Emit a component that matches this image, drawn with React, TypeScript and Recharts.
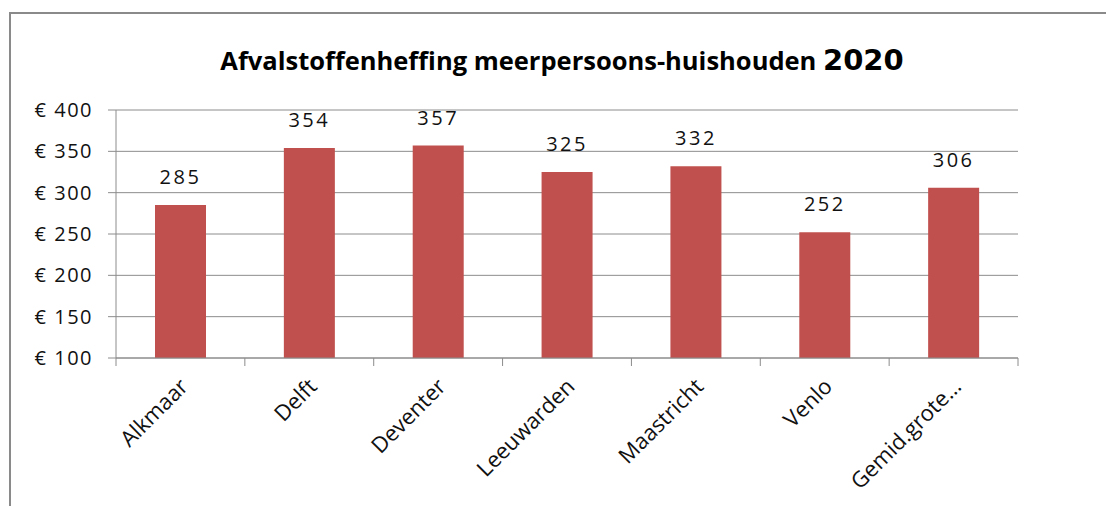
import React from "react";
import { BarChart, Bar, XAxis, YAxis, CartesianGrid, LabelList } from "recharts";

const categories = ["Alkmaar", "Delft", "Deventer", "Leeuwarden", "Maastricht", "Venlo", "Gemid.grote…"];
const values = [285, 354, 357, 325, 332, 252, 306];
const yTicks = [100, 150, 200, 250, 300, 350, 400];

const data = categories.map((name, i) => ({ name, value: values[i] }));

const W = 1106;
const H = 506;
const M = { top: 110, right: 88, bottom: 0, left: 0 };
const XH = 148;
const YW = 116;
const FONT = "'Open Sans', Lato, sans-serif";
const band = (W - M.left - M.right - YW) / categories.length;

const XTick = (props: any) => {
  const { x, y, payload, index } = props;
  const ax = x + 9;
  const ay = y + 22;
  return (
    <g>
      <line x1={x - band / 2} x2={x - band / 2} y1={y - 8} y2={y} stroke="#8c8c8c" strokeWidth={1} />
      {index === categories.length - 1 && (
        <line x1={x + band / 2} x2={x + band / 2} y1={y - 8} y2={y} stroke="#8c8c8c" strokeWidth={1} />
      )}
      <text
        x={ax}
        y={ay}
        transform={`rotate(-45 ${ax} ${ay})`}
        textAnchor="end"
        fontFamily={FONT}
        fontSize={22}
        fill="#111"
      >
        {payload.value}
      </text>
    </g>
  );
};

export default function App() {
  return (
    <div style={{ position: "absolute", left: 0, top: 0, width: W, height: H, background: "#fff", overflow: "hidden" }}>
      <div
        style={{
          position: "absolute",
          left: 9,
          top: 12,
          width: W,
          height: H,
          borderLeft: "2px solid #8a8a8a",
          borderTop: "2px solid #8a8a8a",
        }}
      />
      <BarChart width={W} height={H} data={data} margin={M} style={{ position: "absolute", left: 0, top: 0 }}>
        <text x={562} y={70} textAnchor="middle" fontFamily={FONT} fontWeight={700} fontSize={25.5} fill="#000">
          Afvalstoffenheffing meerpersoons-huishouden{" "}
          <tspan fontFamily="'DejaVu Sans', sans-serif" fontSize={29}>2020</tspan>
        </text>
        <CartesianGrid vertical={false} stroke="#8c8c8c" strokeWidth={1} />
        <XAxis
          dataKey="name"
          axisLine={{ stroke: "#8c8c8c" }}
          tickLine={false}
          tick={<XTick />}
          interval={0}
          height={XH}
        />
        <YAxis
          domain={[100, 400]}
          ticks={yTicks}
          width={YW}
          axisLine={{ stroke: "#8c8c8c" }}
          tickLine={{ stroke: "#8c8c8c" }}
          tickSize={8}
          tickMargin={15}
          tickFormatter={(v: number) => `€ ${v}`}
          tick={{ fontFamily: FONT, fontSize: 20, fill: "#111", letterSpacing: 1.5 }}
          interval={0}
        />
        <Bar dataKey="value" fill="#C0504D" barSize={51} isAnimationActive={false}>
          <LabelList
            dataKey="value"
            position="top"
            offset={21}
            style={{ fontFamily: FONT, fontSize: 20, fill: "#111", letterSpacing: 2.5 }}
          />
        </Bar>
      </BarChart>
    </div>
  );
}
